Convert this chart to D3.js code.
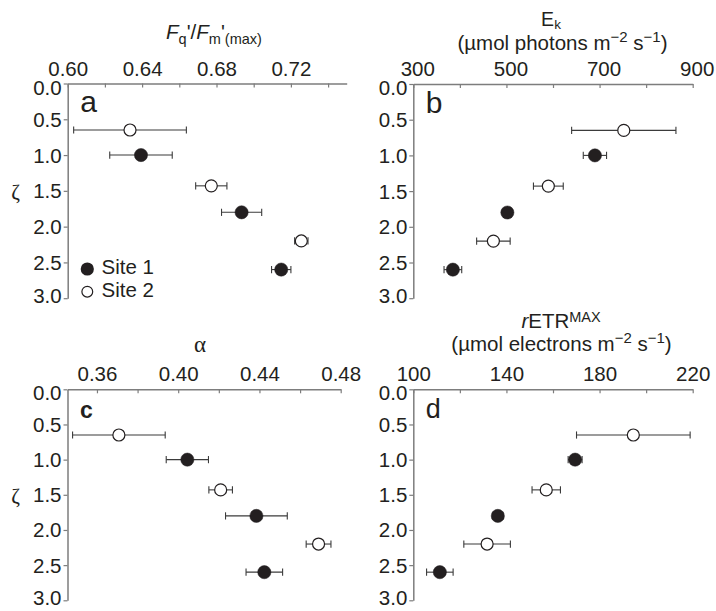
<!DOCTYPE html>
<html>
<head>
<meta charset="utf-8">
<script src="https://cdn.jsdelivr.net/npm/d3@7"></script>
<style>
  html, body { margin: 0; padding: 0; background: #fff; }
  svg { display: block; }
  text { font-family: "Liberation Sans", Arial, Helvetica, sans-serif; fill: #231f20; }
  .greek { font-family: "Liberation Serif", "DejaVu Serif", serif; }
</style>
</head>
<body>
<svg id="chart" width="716" height="611"></svg>
<script>
// Depth (optical depth, zeta) of each sampling level
const depthSite1 = [1.0, 1.8, 2.6];
const depthSite2 = [0.65, 1.43, 2.2];

// Fq'/Fm'(max): mean and standard error
const fqfmSite1 = [0.6394, 0.6935, 0.7148];
const fqfmSite1Err = [0.0168, 0.0108, 0.0052];
const fqfmSite2 = [0.6335, 0.6772, 0.7256];
const fqfmSite2Err = [0.0303, 0.0084, 0.0036];

// Ek (µmol photons m-2 s-1)
const ekSite1 = [690, 502, 385];
const ekSite1Err = [25, 5, 19];
const ekSite2 = [752, 590, 472];
const ekSite2Err = [112, 32, 36];

// alpha
const alphaSite1 = [0.4045, 0.4385, 0.4424];
const alphaSite1Err = [0.0104, 0.0152, 0.0090];
const alphaSite2 = [0.3708, 0.4209, 0.4691];
const alphaSite2Err = [0.0228, 0.0058, 0.0061];

// rETRmax (µmol electrons m-2 s-1)
const etrSite1 = [169.5, 136.3, 111.4];
const etrSite1Err = [3.0, 2.3, 5.7];
const etrSite2 = [194.5, 157.1, 131.7];
const etrSite2Err = [24.4, 6.1, 10.0];

// Axis ticks and labels
const depthTicks = [0, 0.5, 1.0, 1.5, 2.0, 2.5, 3.0];
const fqfmTicks = [0.60, 0.62, 0.64, 0.66, 0.68, 0.70, 0.72, 0.74];
const fqfmLabels = [0.60, 0.64, 0.68, 0.72];
const ekTicks = [300, 400, 500, 600, 700, 800, 900];
const ekLabels = [300, 500, 700, 900];
const alphaTicks = [0.36, 0.38, 0.40, 0.42, 0.44, 0.46, 0.48];
const alphaLabels = [0.36, 0.40, 0.44, 0.48];
const etrTicks = [100, 120, 140, 160, 180, 200, 220];
const etrLabels = [100, 140, 180, 220];

const legendLabels = ["Site 1", "Site 2"];

const INK = "#231f20";
const AXIS = "#7d7d7d";
const TICK_FONT = "20.5px";

const svg = d3.select("#chart");

const panels = [
  { letter: "a", letterSize: 30, letterWeight: "normal",
    xr: [67.7, 346.7], yr: [83.5, 298.2], domain: [0.60, 0.75],
    ticks: fqfmTicks, labels: fqfmLabels, fmt: d3.format(".2f"), labelShift: 0,
    s1: fqfmSite1, e1: fqfmSite1Err, s2: fqfmSite2, e2: fqfmSite2Err, yLabel: true, legend: true },
  { letter: "b", letterSize: 30, letterWeight: "normal",
    xr: [413.3, 692.7], yr: [84, 298.2], domain: [300, 900],
    ticks: ekTicks, labels: ekLabels, fmt: d3.format("d"), labelShift: 4,
    s1: ekSite1, e1: ekSite1Err, s2: ekSite2, e2: ekSite2Err },
  { letter: "c", letterSize: 23, letterWeight: "bold",
    xr: [67.5, 340.7], yr: [389.3, 600.3], domain: [0.3455, 0.48],
    ticks: alphaTicks, labels: alphaLabels, fmt: d3.format(".2f"), labelShift: 0,
    s1: alphaSite1, e1: alphaSite1Err, s2: alphaSite2, e2: alphaSite2Err, yLabel: true },
  { letter: "d", letterSize: 27, letterWeight: "normal",
    xr: [413.3, 692.7], yr: [389.3, 600.3], domain: [100, 220],
    ticks: etrTicks, labels: etrLabels, fmt: d3.format("d"), labelShift: 0,
    s1: etrSite1, e1: etrSite1Err, s2: etrSite2, e2: etrSite2Err }
];

const isLabel = (p, v) => p.labels.some(l => Math.abs(l - v) < 1e-9);

panels.forEach(p => {
  const x = d3.scaleLinear().domain(p.domain).range(p.xr);
  const y = d3.scaleLinear().domain([0, 3]).range(p.yr);
  const g = svg.append("g");

  // top axis, ticks pointing into the plot
  const xAxis = d3.axisTop(x)
    .tickValues(p.ticks)
    .tickSizeInner(-4)
    .tickSizeOuter(0)
    .tickPadding(8)
    .tickFormat(v => isLabel(p, v) ? p.fmt(v) : "");
  const gx = g.append("g").attr("transform", `translate(0,${p.yr[0]})`).call(xAxis);

  // left axis, ticks pointing outward
  const yAxis = d3.axisLeft(y)
    .tickValues(depthTicks)
    .tickSizeInner(4)
    .tickSizeOuter(0)
    .tickPadding(2)
    .tickFormat(d3.format(".1f"));
  const gy = g.append("g").attr("transform", `translate(${p.xr[0]},0)`).call(yAxis);

  [gx, gy].forEach(a => {
    a.select(".domain").attr("stroke", AXIS).attr("stroke-width", 1.5);
    a.selectAll(".tick line").attr("stroke", AXIS).attr("stroke-width", 1.2);
    a.selectAll(".tick text")
      .attr("fill", INK)
      .style("font-family", '"Liberation Sans", Arial, sans-serif')
      .style("font-size", TICK_FONT);
  });
  gx.selectAll(".tick text").attr("dy", "0").attr("dx", p.labelShift);
  gy.selectAll(".tick text")
    .attr("dy", v => v === 0 ? "0.52em" : v === 3 ? "0.22em" : "0.34em");

  // panel letter
  g.append("text")
    .attr("x", p.xr[0] + 12.5)
    .attr("y", p.yr[0] + 28.5)
    .style("font-size", p.letterSize + "px")
    .style("font-weight", p.letterWeight)
    .text(p.letter);

  // y-axis title (zeta)
  if (p.yLabel) {
    g.append("text")
      .attr("class", "greek")
      .attr("x", 15.5)
      .attr("y", y(1.5) + 8)
      .attr("text-anchor", "middle")
      .style("font-size", "21px")
      .text("ζ");
  }

  // error bars then markers, for each site
  const series = [
    { vals: p.s2, errs: p.e2, depth: depthSite2, filled: false },
    { vals: p.s1, errs: p.e1, depth: depthSite1, filled: true }
  ];
  series.forEach(s => {
    const pts = s.vals.map((v, i) => ({ v, e: s.errs[i], z: s.depth[i] }));
    const eb = g.append("g").attr("stroke", "#3b3b3b").attr("stroke-width", 1.1).attr("fill", "none");
    eb.selectAll("line.bar").data(pts).join("line")
      .attr("x1", d => x(d.v - d.e)).attr("x2", d => x(d.v + d.e))
      .attr("y1", d => y(d.z)).attr("y2", d => y(d.z));
    eb.selectAll("line.capl").data(pts).join("line").attr("class", "capl")
      .attr("x1", d => x(d.v - d.e)).attr("x2", d => x(d.v - d.e))
      .attr("y1", d => y(d.z) - 3.6).attr("y2", d => y(d.z) + 3.6);
    eb.selectAll("line.capr").data(pts).join("line").attr("class", "capr")
      .attr("x1", d => x(d.v + d.e)).attr("x2", d => x(d.v + d.e))
      .attr("y1", d => y(d.z) - 3.6).attr("y2", d => y(d.z) + 3.6);
    g.append("g").selectAll("circle").data(pts).join("circle")
      .attr("cx", d => x(d.v)).attr("cy", d => y(d.z))
      .attr("r", s.filled ? 6.6 : 6.0)
      .attr("fill", s.filled ? INK : "#fff")
      .attr("stroke", INK)
      .attr("stroke-width", s.filled ? 0.5 : 1.2);
  });

  // legend
  if (p.legend) {
    const lg = g.append("g");
    lg.append("circle").attr("cx", 87.3).attr("cy", 269).attr("r", 6.6).attr("fill", INK);
    lg.append("circle").attr("cx", 87.3).attr("cy", 291.7).attr("r", 5.4)
      .attr("fill", "#fff").attr("stroke", INK).attr("stroke-width", 1.2);
    lg.append("text").attr("x", 101.5).attr("y", 273.5).style("font-size", TICK_FONT).text(legendLabels[0]);
    lg.append("text").attr("x", 101.5).attr("y", 296.5).style("font-size", TICK_FONT).text(legendLabels[1]);
  }
});

// ----- axis titles -----
// panel a: Fq'/Fm'(max)
const tA = svg.append("text").attr("x", 214).attr("y", 39)
  .attr("text-anchor", "middle").style("font-size", "20.5px");
tA.append("tspan").style("font-style", "italic").text("F");
tA.append("tspan").attr("dy", 5).style("font-size", "14.5px").text("q");
tA.append("tspan").attr("dy", -5).text("'/");
tA.append("tspan").style("font-style", "italic").text("F");
tA.append("tspan").attr("dy", 5).style("font-size", "14.5px").text("m");
tA.append("tspan").attr("dy", -5).text("'");
tA.append("tspan").attr("dy", 5).style("font-size", "14.5px").text("(max)");

// panel b: Ek and units
const tB1 = svg.append("text").attr("x", 551).attr("y", 26)
  .attr("text-anchor", "middle").style("font-size", "19.5px");
tB1.append("tspan").text("E");
tB1.append("tspan").attr("dy", 3).style("font-size", "13.5px").text("k");

function unitsLine(cx, cy, word) {
  const t = svg.append("text").attr("x", cx).attr("y", cy)
    .attr("text-anchor", "middle").style("font-size", "20.5px");
  t.append("tspan").text(`(µmol ${word} m`);
  t.append("tspan").attr("dy", -7.5).style("font-size", "15px").text("−2");
  t.append("tspan").attr("dy", 7.5).text(" s");
  t.append("tspan").attr("dy", -7.5).style("font-size", "15px").text("−1");
  t.append("tspan").attr("dy", 7.5).text(")");
}
unitsLine(562.5, 49.5, "photons");

// panel c: alpha
svg.append("text").attr("class", "greek").attr("x", 200).attr("y", 351.5)
  .attr("text-anchor", "middle").style("font-size", "23px").text("α");

// panel d: rETRMAX and units
const tD1 = svg.append("text").attr("x", 561).attr("y", 328)
  .attr("text-anchor", "middle").style("font-size", "20.5px");
tD1.append("tspan").style("font-style", "italic").text("r");
tD1.append("tspan").text("ETR");
tD1.append("tspan").attr("dy", -6).style("font-size", "14.5px").text("MAX");
unitsLine(561.5, 350.5, "electrons");
</script>
</body>
</html>
